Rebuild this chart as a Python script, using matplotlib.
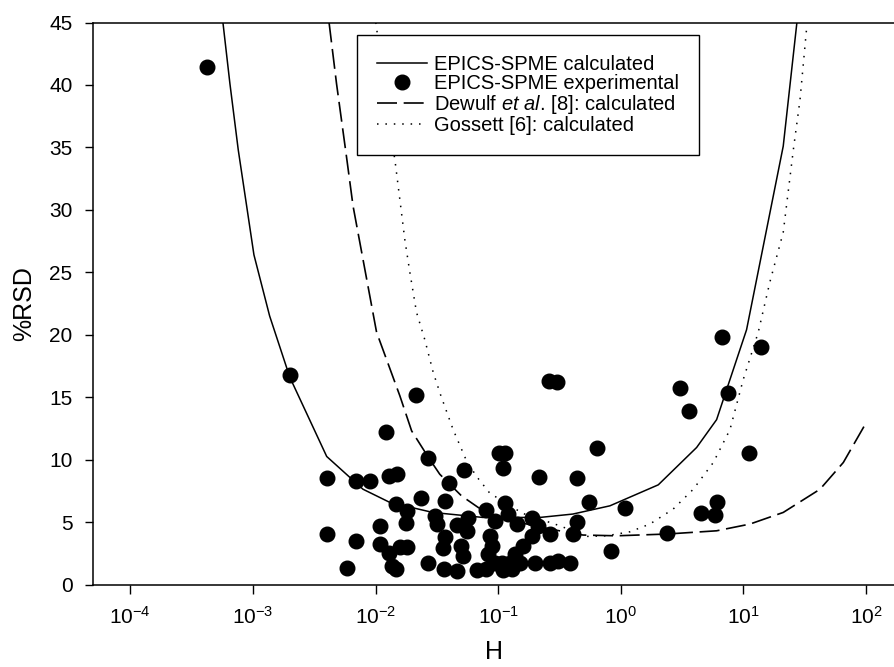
import matplotlib
matplotlib.use("Agg")
import matplotlib.pyplot as plt
from matplotlib.ticker import NullLocator

plt.rcParams['font.family'] = ['Liberation Sans', 'DejaVu Sans']
plt.rcParams['mathtext.fontset'] = 'custom'
plt.rcParams['mathtext.rm'] = 'Liberation Sans'
plt.rcParams['mathtext.it'] = 'Liberation Sans:italic'
plt.rcParams['mathtext.default'] = 'regular'

# experimental points (H, %RSD)
exp_h = [0.00042, 0.0020, 0.0213, 0.0121, 0.0269, 0.0040, 0.0069, 0.0090, 0.0129, 0.0150,
         0.053, 0.0394, 0.0237, 0.0367, 0.0148, 0.0179, 0.0177, 0.0308, 0.0315, 0.0108,
         0.0040, 0.0069, 0.0108, 0.0158, 0.0179, 0.0128, 0.0367, 0.0356, 0.0458, 0.0502,
         0.0519, 0.0059, 0.0137, 0.0148, 0.0266, 0.0361, 0.0458, 0.0569, 0.102, 0.113,
         0.109, 0.635, 0.216, 0.441, 0.552, 0.114, 0.0795, 0.121, 0.094, 0.187,
         0.143, 0.212, 0.437, 0.0552, 0.264, 0.409, 0.187, 0.0855, 0.0883, 0.160,
         0.0828, 0.137, 0.826, 0.107, 0.125, 0.150, 0.199, 0.264, 0.308, 0.385,
         0.0667, 0.0803, 0.110, 0.129, 0.094, 6.64, 13.9, 0.259, 0.303, 3.03,
         7.52, 3.59, 11.15, 1.09, 6.04, 4.50, 5.86, 2.38]
exp_rsd = [41.4, 16.8, 15.2, 12.25, 10.1, 8.5, 8.25, 8.3, 8.65, 8.85,
           9.15, 8.15, 6.95, 6.65, 6.45, 5.85, 4.95, 5.45, 4.85, 4.7,
           4.05, 3.5, 3.25, 3.0, 3.0, 2.55, 3.8, 2.95, 4.75, 3.1,
           2.3, 1.3, 1.5, 1.25, 1.75, 1.25, 1.1, 5.35, 10.55, 10.55,
           9.35, 10.9, 8.6, 8.5, 6.6, 6.55, 5.95, 5.65, 5.1, 5.35,
           4.85, 4.7, 5.0, 4.3, 4.05, 4.05, 3.9, 3.9, 3.1, 3.1,
           2.45, 2.45, 2.65, 1.75, 1.75, 1.75, 1.7, 1.75, 1.9, 1.75,
           1.2, 1.25, 1.2, 1.25, 1.75, 19.8, 19.0, 16.3, 16.2, 15.7,
           15.3, 13.9, 10.5, 6.1, 6.6, 5.7, 5.55, 4.1]

# EPICS-SPME calculated
calc_h = [5.7e-4, 6.5e-4, 7.6e-4, 8.9e-4, 0.00102, 0.00137, 0.0020, 0.0040, 0.0079, 0.0131,
          0.0293, 0.075, 0.219, 0.406, 0.815, 2.02, 4.15, 6.04, 10.6, 21.1, 27.2]
calc_rsd = [45.0, 40.1, 34.8, 30.3, 26.4, 21.5, 16.6, 10.25, 7.63, 6.57,
            5.77, 5.37, 5.37, 5.64, 6.30, 7.98, 10.97, 13.2, 20.4, 35.1, 44.9]

# Dewulf et al. [8]
dewulf_h = [0.00418, 0.00481, 0.00579, 0.00656, 0.0102, 0.0158, 0.0197, 0.0269, 0.0334, 0.0502,
            0.0687, 0.097, 0.264, 0.491, 0.925, 2.37, 6.04, 11.3, 21.1, 42.1, 65.2, 98.0]
dewulf_rsd = [45.0, 40.1, 34.3, 30.3, 20.2, 15.1, 12.3, 10.2, 8.83, 7.10,
              6.17, 5.37, 4.44, 3.96, 3.90, 4.04, 4.30, 4.84, 5.77, 7.63, 9.77, 12.8]

# Gossett [6]
gossett_h = [0.01005, 0.01456, 0.0158, 0.01734, 0.01905, 0.02158, 0.02523, 0.02951, 0.03388, 0.04295,
             0.05521, 0.06668, 0.0855, 0.158, 0.3184, 0.526, 0.766, 1.186, 1.726, 2.673,
             3.90, 5.68, 7.76, 9.95, 13.2, 16.4, 21.1, 25.5, 28.9, 32.7]
gossett_rsd = [45.0, 33.6, 30.8, 27.6, 25.0, 21.8, 19.6, 17.0, 15.2, 12.4,
               9.90, 8.65, 7.31, 5.7, 4.70, 3.85, 3.90, 4.22, 4.84, 6.04,
               7.63, 9.77, 12.4, 16.4, 20.2, 24.2, 28.2, 34.8, 38.8, 44.5]

x_ticks = [1e-4, 1e-3, 1e-2, 1e-1, 1e0, 1e1, 1e2]
x_tick_labels = ['$10^{-4}$', '$10^{-3}$', '$10^{-2}$', '$10^{-1}$',
                 '$10^{0}$', '$10^{1}$', '$10^{2}$']

fig = plt.figure(figsize=(8.95, 6.67), dpi=100)
ax = fig.add_axes([93.3 / 895, 82.5 / 667, 1 - 93.3 / 895, 562 / 667])

ax.plot(calc_h, calc_rsd, color='black', lw=1.1, label='EPICS-SPME calculated')
ax.plot(exp_h, exp_rsd, 'o', ms=10.5, color='black', linestyle='none',
        label='EPICS-SPME experimental', zorder=3)
ax.plot(dewulf_h, dewulf_rsd, color='black', lw=1.2, ls=(0, (12, 4)),
        label=r'Dewulf $\it{et\ al.}\,$[8]: calculated')
ax.plot(gossett_h, gossett_rsd, color='black', lw=1.1, ls=(0, (1, 4.5)),
        label='Gossett [6]: calculated')

ax.set_xscale('log')
ax.set_xlim(5e-5, 172)
ax.set_ylim(0, 45)
ax.set_xticks(x_ticks)
ax.set_xticklabels(x_tick_labels)
ax.xaxis.set_minor_locator(NullLocator())
ax.set_yticks(range(0, 46, 5))

ax.spines['right'].set_visible(False)
for s in ['left', 'bottom', 'top']:
    ax.spines[s].set_linewidth(1.1)
ax.tick_params(axis='both', direction='out', width=1, labelsize=15)
ax.tick_params(axis='y', length=6, pad=9)
ax.tick_params(axis='x', length=6.5, pad=9)
ax.tick_params(top=False, right=False)

ax.set_xlabel('H', fontsize=18, labelpad=9)
ax.set_ylabel('%RSD', fontsize=18, labelpad=9)

leg = ax.legend(loc='upper left', bbox_to_anchor=(0.3286, 0.9778), borderaxespad=0,
                fontsize=14.5, frameon=True, fancybox=False, edgecolor='black', framealpha=1,
                handlelength=2.5, handletextpad=0.35, labelspacing=0.0, borderpad=1.0,
                numpoints=1)
leg.get_frame().set_linewidth(1.0)
leg.set_zorder(5)

fig.savefig('out.png', dpi=100)
